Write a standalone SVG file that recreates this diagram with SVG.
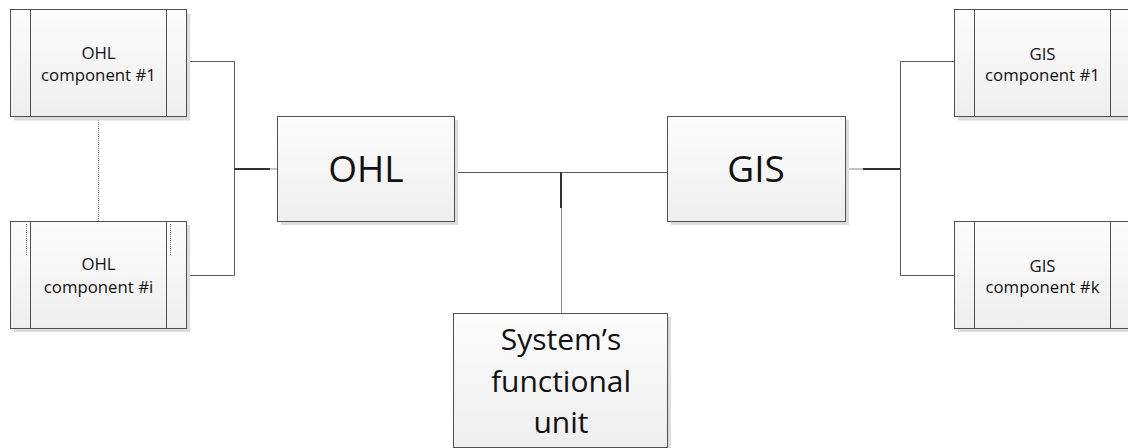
<svg xmlns="http://www.w3.org/2000/svg" width="1128" height="448" viewBox="0 0 1128 448">
  <defs>
    <linearGradient id="boxFill" x1="0" y1="0" x2="0" y2="1">
      <stop offset="0" stop-color="#fcfcfc"/>
      <stop offset="1" stop-color="#eeeeee"/>
    </linearGradient>
    <style>
      .shadow { fill: #dcdcdc; }
      .box { fill: url(#boxFill); stroke: #505050; stroke-width: 1; }
      .bar { stroke: #505050; stroke-width: 1; fill: none; }
      .dots { stroke: #707070; stroke-width: 1; stroke-dasharray: 1 1; fill: none; }
      .wire { stroke: #5a5a5a; stroke-width: 1; fill: none; }
      .wire-lite { stroke: #8a8a8a; stroke-width: 1; fill: none; }
      .wire-bold { stroke: #333333; stroke-width: 2; fill: none; }
      text { font-family: "Open Sans", "Noto Sans", "Liberation Sans", sans-serif; fill: #111111; text-anchor: middle; }
      .small { font-size: 16.8px; }
      .big { font-size: 37px; }
      .mid { font-size: 30px; }
    </style>
  </defs>

  <!-- connectors -->
  <g id="connectors">
    <!-- OHL components to OHL -->
    <polyline class="wire" points="186.5,61.5 234.5,61.5 234.5,275.5 186.5,275.5"/>
    <line class="wire-bold" x1="234" y1="169" x2="270" y2="169"/>
    <line class="wire-lite" x1="270" y1="169" x2="277" y2="169"/>
    <!-- OHL to GIS -->
    <line class="wire" x1="454" y1="172.5" x2="667" y2="172.5"/>
    <!-- branch down to functional unit -->
    <line class="wire-bold" x1="561" y1="172" x2="561" y2="208"/>
    <line class="wire-lite" x1="561.5" y1="208" x2="561.5" y2="313"/>
    <!-- GIS to GIS components -->
    <line class="wire-lite" x1="845" y1="169" x2="863" y2="169"/>
    <line class="wire-bold" x1="863" y1="169" x2="900" y2="169"/>
    <polyline class="wire" points="954,61.5 900.5,61.5 900.5,275.5 954,275.5"/>
    <!-- ellipsis between OHL components -->
    <line class="dots" x1="98.5" y1="118" x2="98.5" y2="221"/>
  </g>

  <g id="ohl-component-1">
    <rect class="shadow" x="14" y="13.5" width="176" height="107"/>
    <rect class="box" x="10.5" y="9.5" width="176" height="107"/>
    <line class="bar" x1="30.5" y1="9.5" x2="30.5" y2="116.5"/>
    <line class="bar" x1="166.5" y1="9.5" x2="166.5" y2="116.5"/>
    <text class="small" x="98.5" y="59">OHL</text>
    <text class="small" x="98.5" y="81">component #1</text>
  </g>

  <g id="ohl-component-i">
    <rect class="shadow" x="14" y="225" width="176" height="107"/>
    <rect class="box" x="10.5" y="221.5" width="176" height="107"/>
    <line class="bar" x1="30.5" y1="221.5" x2="30.5" y2="328.5"/>
    <line class="bar" x1="166.5" y1="221.5" x2="166.5" y2="328.5"/>
    <line class="dots" x1="26.5" y1="224" x2="26.5" y2="256"/>
    <line class="dots" x1="170.5" y1="224" x2="170.5" y2="256"/>
    <text class="small" x="98.5" y="270">OHL</text>
    <text class="small" x="98.5" y="293">component #i</text>
  </g>

  <g id="ohl">
    <rect class="shadow" x="281" y="120" width="177" height="105"/>
    <rect class="box" x="277.5" y="116.5" width="177" height="105"/>
    <text class="big" x="366" y="182">OHL</text>
  </g>

  <g id="gis">
    <rect class="shadow" x="671" y="120" width="178" height="105"/>
    <rect class="box" x="667.5" y="116.5" width="178" height="105"/>
    <text class="big" x="756" y="182">GIS</text>
  </g>

  <g id="functional-unit">
    <rect class="shadow" x="457" y="317" width="214" height="140"/>
    <rect class="box" x="453.5" y="313.5" width="214" height="134"/>
    <text class="mid" x="561" y="350">System’s</text>
    <text class="mid" x="561" y="392">functional</text>
    <text class="mid" x="561" y="433">unit</text>
  </g>

  <g id="gis-component-1">
    <rect class="shadow" x="958" y="13.5" width="176" height="107"/>
    <rect class="box" x="954.5" y="9.5" width="176" height="107"/>
    <line class="bar" x1="974.5" y1="9.5" x2="974.5" y2="116.5"/>
    <line class="bar" x1="1110.5" y1="9.5" x2="1110.5" y2="116.5"/>
    <text class="small" x="1042.5" y="60">GIS</text>
    <text class="small" x="1042.5" y="81">component #1</text>
  </g>

  <g id="gis-component-k">
    <rect class="shadow" x="958" y="225" width="176" height="107"/>
    <rect class="box" x="954.5" y="221.5" width="176" height="107"/>
    <line class="bar" x1="974.5" y1="221.5" x2="974.5" y2="328.5"/>
    <line class="bar" x1="1110.5" y1="221.5" x2="1110.5" y2="328.5"/>
    <text class="small" x="1042.5" y="272">GIS</text>
    <text class="small" x="1042.5" y="293">component #k</text>
  </g>
</svg>
